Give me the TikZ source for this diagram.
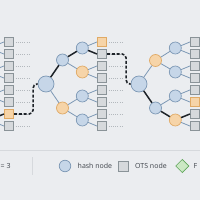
\documentclass[tikz,border=0pt]{standalone}
\usepackage{fontspec}
\setmainfont{Open Sans}
\usetikzlibrary{shapes.geometric}
\definecolor{bg}{HTML}{EBEDF0}
\definecolor{hashfill}{HTML}{C6D6E8}
\definecolor{hashdraw}{HTML}{7D98B5}
\definecolor{authfill}{HTML}{F6D4A8}
\definecolor{authdraw}{HTML}{E0AA66}
\definecolor{otsfill}{HTML}{D6D9DC}
\definecolor{otsdraw}{HTML}{8A9398}
\definecolor{edgec}{HTML}{7D98B5}
\definecolor{darkc}{HTML}{1E2329}
\definecolor{dotc}{HTML}{B3B8BD}
\definecolor{sepc}{HTML}{D6D9DD}
\definecolor{greenfill}{HTML}{CBE8C4}
\definecolor{greendraw}{HTML}{5FA65A}
\definecolor{textc}{HTML}{3C4148}
\begin{document}
\begin{tikzpicture}[x=1pt,y=-1pt,
  hnode/.style={circle,draw=hashdraw,fill=hashfill,line width=0.7pt,inner sep=0pt,minimum size=12pt},
  rootnode/.style={hnode,minimum size=16pt},
  anode/.style={hnode,draw=authdraw,fill=authfill},
  ots/.style={rectangle,draw=otsdraw,fill=otsfill,line width=0.7pt,inner sep=0pt,minimum size=9.5pt},
  otsauth/.style={ots,draw=authdraw,fill=authfill},
  edge/.style={draw=edgec,line width=0.8pt},
  thickedge/.style={draw=darkc,line width=1.5pt},
  chain/.style={draw=darkc,line width=1.6pt,dash pattern=on 3pt off 1.8pt,rounded corners=4pt},
  dots/.style={draw=dotc,line width=0.6pt,dash pattern=on 1pt off 1.2pt},
  sepline/.style={draw=sepc,line width=0.7pt},
  lbl/.style={font=\fontsize{7}{8}\selectfont,text=textc,inner sep=0pt,anchor=west}
]
\fill[bg] (0,0) rectangle (200,200);
\useasboundingbox (0,0) rectangle (200,200);
\clip (0,0) rectangle (200,200);

% ---------- squares ----------
\foreach \i/\y/\s in {1/42/ots,2/54/ots,3/66/ots,4/78/ots,5/90/ots,6/102/ots,7/114/otsauth,8/126/ots}{
  \node[\s] (Ls\i) at (9,\y) {};
  \draw[dots] ([xshift=1.5pt]Ls\i.east) -- ++(15,0);
}
\foreach \i/\y/\s in {1/42/otsauth,2/54/ots,3/66/ots,4/78/ots,5/90/ots,6/102/ots,7/114/ots,8/126/ots}{
  \node[\s] (Ms\i) at (102,\y) {};
  \draw[dots] ([xshift=1.5pt]Ms\i.east) -- ++(15,0);
}
\foreach \i/\y/\s in {1/42/ots,2/54/ots,3/66/ots,4/78/ots,5/90/ots,6/102/otsauth,7/114/ots,8/126/ots}{
  \node[\s] (Rs\i) at (195,\y) {};
}

% ---------- left (partial) tree ----------
\coordinate (Lp1) at (-11,48);
\coordinate (Lp2) at (-11,72);
\coordinate (Lp3) at (-11,96);
\coordinate (Lp4) at (-11,120);
\draw[edge] (Lp1) -- (Ls1.west); \draw[edge] (Lp1) -- (Ls2.west);
\draw[edge] (Lp2) -- (Ls3.west); \draw[edge] (Lp2) -- (Ls4.west);
\draw[edge] (Lp3) -- (Ls5.west); \draw[edge] (Lp3) -- (Ls6.west);
\draw[thickedge] (Lp4) -- (Ls7.west); \draw[edge] (Lp4) -- (Ls8.west);

% ---------- middle tree ----------
\node[rootnode] (Mroot) at (46,84) {};
\node[hnode] (Ma) at (62.5,60) {};
\node[anode] (Mb) at (62.5,108) {};
\node[hnode] (Maa) at (82.3,48) {};
\node[anode] (Mab) at (82.3,72) {};
\node[hnode] (Mba) at (82.3,96) {};
\node[hnode] (Mbb) at (82.3,120) {};
\draw[thickedge] (Mroot) -- (Ma);
\draw[edge] (Mroot) -- (Mb);
\draw[thickedge] (Ma) -- (Maa);
\draw[edge] (Ma) -- (Mab);
\draw[edge] (Mb) -- (Mba);
\draw[edge] (Mb) -- (Mbb);
\draw[edge] (Maa) -- (Ms1.west);
\draw[thickedge] (Maa) -- (Ms2.west);
\draw[edge] (Mab) -- (Ms3.west); \draw[edge] (Mab) -- (Ms4.west);
\draw[edge] (Mba) -- (Ms5.west); \draw[edge] (Mba) -- (Ms6.west);
\draw[edge] (Mbb) -- (Ms7.west); \draw[edge] (Mbb) -- (Ms8.west);

% ---------- right tree ----------
\node[rootnode] (Rroot) at (139,84) {};
\node[anode] (Ra) at (155.5,60.5) {};
\node[hnode] (Rb) at (155.5,108) {};
\node[hnode] (Raa) at (175.3,48) {};
\node[hnode] (Rab) at (175.3,72) {};
\node[hnode] (Rba) at (175.3,96) {};
\node[anode] (Rbb) at (175.3,120) {};
\draw[edge] (Rroot) -- (Ra);
\draw[thickedge] (Rroot) -- (Rb);
\draw[edge] (Ra) -- (Raa);
\draw[edge] (Ra) -- (Rab);
\draw[edge] (Rb) -- (Rba);
\draw[thickedge] (Rb) -- (Rbb);
\draw[edge] (Raa) -- (Rs1.west); \draw[edge] (Raa) -- (Rs2.west);
\draw[edge] (Rab) -- (Rs3.west); \draw[edge] (Rab) -- (Rs4.west);
\draw[edge] (Rba) -- (Rs5.west); \draw[edge] (Rba) -- (Rs6.west);
\draw[thickedge] (Rbb) -- (Rs7.west); \draw[edge] (Rbb) -- (Rs8.west);

% ---------- chains between trees ----------
\draw[chain] (Ls7.east) -- ++(19,0) |- (Mroot.west);
\draw[chain] (Ms2.east) -- ++(19,0) |- (Rroot.west);

% ---------- legend ----------
\draw[sepline] (0,150) -- (200,150);
\draw[sepline] (32,157) -- (32,175);
\node[lbl] (lgEq) at (0.5,166) {= 3};
\node[hnode,minimum size=11.5pt] (lgH) at (65,166) {};
\node[lbl] (lgHt) at (77.5,166) {hash node};
\node[ots,minimum size=10pt] (lgO) at (123.7,166) {};
\node[lbl] (lgOt) at (135,166) {OTS node};
\node[diamond,draw=greendraw,fill=greenfill,line width=0.7pt,inner sep=0pt,minimum size=13.4pt] (lgF) at (182.3,166) {};
\node[lbl] (lgFt) at (193.5,166) {F};
\end{tikzpicture}
\end{document}
